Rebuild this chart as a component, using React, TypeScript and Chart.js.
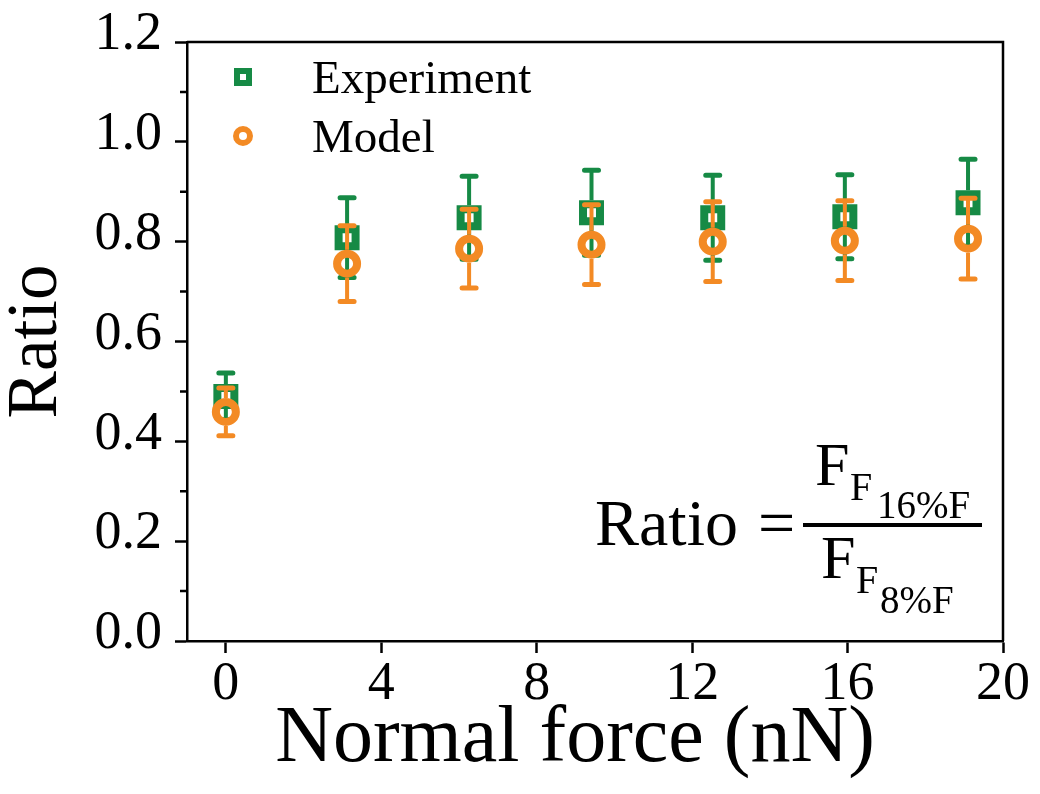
import React, { useEffect, useRef } from 'react';
import { Chart, registerables } from 'chart.js';

Chart.register(...registerables);

// ---- data ----
const forceX = [0, 3.12, 6.26, 9.41, 12.53, 15.93, 19.1];
const expY = [0.49, 0.808, 0.848, 0.858, 0.848, 0.85, 0.878];
const expErr = [0.047, 0.08, 0.083, 0.085, 0.085, 0.084, 0.087];
const modelY = [0.459, 0.756, 0.786, 0.794, 0.8, 0.802, 0.806];
const modelErr = [0.048, 0.076, 0.079, 0.08, 0.08, 0.08, 0.081];
const xTicks = [0, 4, 8, 12, 16, 20];
const yTicks = [0, 0.2, 0.4, 0.6, 0.8, 1.0, 1.2];
const yMinorTicks = [0.1, 0.3, 0.5, 0.7, 0.9, 1.1];
const seriesNames = ['Experiment', 'Model'];

const GREEN = '#168a45';
const ORANGE = '#f38a24';
const FONT = '"Liberation Serif", "Times New Roman", serif';

const errorsByLabel: Record<string, number[]> = {
  [seriesNames[0]]: expErr,
  [seriesNames[1]]: modelErr,
};
const markerHalfByLabel: Record<string, number> = {
  [seriesNames[0]]: 12.5,
  [seriesNames[1]]: 14,
};

const errorBarPlugin = {
  id: 'errorBars',
  beforeDatasetDraw(chart: any, args: any) {
    const ds = chart.data.datasets[args.index];
    const errs = errorsByLabel[ds.label];
    if (!errs) return;
    const half = markerHalfByLabel[ds.label];
    const yScale = chart.scales.y;
    const ctx = chart.ctx;
    ctx.save();
    ctx.strokeStyle = ds.borderColor;
    args.meta.data.forEach((el: any, i: number) => {
      const v = ds.data[i].y;
      const e = errs[i];
      const yt = yScale.getPixelForValue(v + e);
      const yb = yScale.getPixelForValue(v - e);
      ctx.lineWidth = 4;
      ctx.lineCap = 'butt';
      ctx.beginPath();
      ctx.moveTo(el.x, el.y - half);
      ctx.lineTo(el.x, yt);
      ctx.moveTo(el.x, el.y + half);
      ctx.lineTo(el.x, yb);
      ctx.stroke();
      ctx.lineWidth = 5;
      ctx.lineCap = 'round';
      ctx.beginPath();
      ctx.moveTo(el.x - 7, yt);
      ctx.lineTo(el.x + 7, yt);
      ctx.moveTo(el.x - 7, yb);
      ctx.lineTo(el.x + 7, yb);
      ctx.stroke();
    });
    ctx.restore();
  },
};

const decorPlugin = {
  id: 'decor',
  afterDraw(chart: any) {
    const { ctx, chartArea } = chart;
    const yScale = chart.scales.y;
    ctx.save();
    // top & right frame
    ctx.strokeStyle = '#000';
    ctx.lineWidth = 2.5;
    ctx.beginPath();
    ctx.moveTo(chartArea.left, chartArea.top);
    ctx.lineTo(chartArea.right, chartArea.top);
    ctx.lineTo(chartArea.right, chartArea.bottom);
    ctx.stroke();
    // minor y ticks
    ctx.beginPath();
    yMinorTicks.forEach((v) => {
      const py = yScale.getPixelForValue(v);
      ctx.moveTo(chartArea.left, py);
      ctx.lineTo(chartArea.left - 7, py);
    });
    ctx.stroke();

    // legend
    const lx = chartArea.left + 56;
    ctx.strokeStyle = GREEN;
    ctx.lineWidth = 6;
    ctx.strokeRect(lx - 6, 77 - 6, 12, 12);
    ctx.strokeStyle = ORANGE;
    ctx.beginPath();
    ctx.arc(lx, 136, 7, 0, Math.PI * 2);
    ctx.stroke();
    ctx.fillStyle = '#000';
    ctx.textBaseline = 'alphabetic';
    ctx.textAlign = 'left';
    ctx.font = `47px ${FONT}`;
    ctx.fillText(seriesNames[0], 312, 93);
    ctx.fillText(seriesNames[1], 312, 152);

    // formula
    ctx.font = `66px ${FONT}`;
    ctx.fillText('Ratio', 595, 545);
    ctx.fillText('=', 758, 545);
    ctx.fillRect(803, 523, 179, 4);
    ctx.font = `62px ${FONT}`;
    ctx.fillText('F', 815, 485);
    ctx.fillText('F', 821, 578);
    ctx.font = `40px ${FONT}`;
    ctx.fillText('F', 850, 500);
    ctx.fillText('F', 856, 593);
    ctx.font = `39px ${FONT}`;
    ctx.fillText('16%F', 877, 518);
    ctx.fillText('8%F', 880, 613);
    ctx.restore();
  },
};

export default function App() {
  const ref = useRef<HTMLCanvasElement>(null);
  useEffect(() => {
    if (!ref.current) return;
    Chart.defaults.font.family = FONT;
    const chart = new Chart(ref.current, {
      type: 'scatter',
      data: {
        datasets: [
          {
            label: seriesNames[1],
            data: forceX.map((x, i) => ({ x, y: modelY[i] })),
            pointStyle: 'circle',
            pointRadius: 10,
            pointBorderWidth: 8,
            borderColor: ORANGE,
            backgroundColor: 'rgba(0,0,0,0)',
            pointBackgroundColor: 'rgba(0,0,0,0)',
            pointBorderColor: ORANGE,
            order: 1,
          },
          {
            label: seriesNames[0],
            data: forceX.map((x, i) => ({ x, y: expY[i] })),
            pointStyle: 'rect',
            pointRadius: 12,
            pointBorderWidth: 8,
            borderColor: GREEN,
            backgroundColor: 'rgba(0,0,0,0)',
            pointBackgroundColor: 'rgba(0,0,0,0)',
            pointBorderColor: GREEN,
            order: 2,
          },
        ],
      },
      options: {
        responsive: false,
        animation: false,
        devicePixelRatio: 1,
        layout: { padding: { top: 42, right: 37, left: 0, bottom: 0 } },
        plugins: {
          legend: { display: false },
          tooltip: { enabled: false },
        },
        scales: {
          x: {
            type: 'linear',
            min: -1,
            max: 20,
            afterBuildTicks: (s: any) => {
              s.ticks = xTicks.map((v) => ({ value: v }));
            },
            afterFit: (s: any) => {
              s.height = 153;
            },
            ticks: {
              font: { size: 54, lineHeight: 1 },
              color: '#000',
              padding: 5,
              maxRotation: 0,
              autoSkip: false,
            },
            grid: {
              display: true,
              drawOnChartArea: false,
              drawTicks: true,
              tickLength: 12,
              tickWidth: 2.5,
              tickColor: '#000',
            },
            border: { display: true, color: '#000', width: 2.5 },
            title: {
              display: true,
              text: 'Normal force (nN)\u2002',
              color: '#000',
              font: { size: 80, lineHeight: 1 },
              padding: { top: 0, bottom: 14 },
            },
          },
          y: {
            type: 'linear',
            min: 0,
            max: 1.2,
            afterBuildTicks: (s: any) => {
              s.ticks = yTicks.map((v) => ({ value: v }));
            },
            afterFit: (s: any) => {
              s.width = 187;
            },
            ticks: {
              font: { size: 54, lineHeight: 1 },
              color: '#000',
              padding: 13,
              labelOffset: -7,
              callback: (v: any) => Number(v).toFixed(1),
            },
            grid: {
              display: true,
              drawOnChartArea: false,
              drawTicks: true,
              tickLength: 12,
              tickWidth: 2.5,
              tickColor: '#000',
            },
            border: { display: true, color: '#000', width: 2.5 },
            title: {
              display: true,
              text: 'Ratio',
              color: '#000',
              font: { size: 71, lineHeight: 1 },
              padding: { top: 2, bottom: 0 },
            },
          },
        },
      },
      plugins: [errorBarPlugin, decorPlugin],
    } as any);
    return () => chart.destroy();
  }, []);
  return (
    <div style={{ position: 'fixed', left: 0, top: 0, width: 1040, height: 794, background: '#fff' }}>
      <canvas ref={ref} width={1040} height={794} style={{ display: 'block' }} />
    </div>
  );
}
